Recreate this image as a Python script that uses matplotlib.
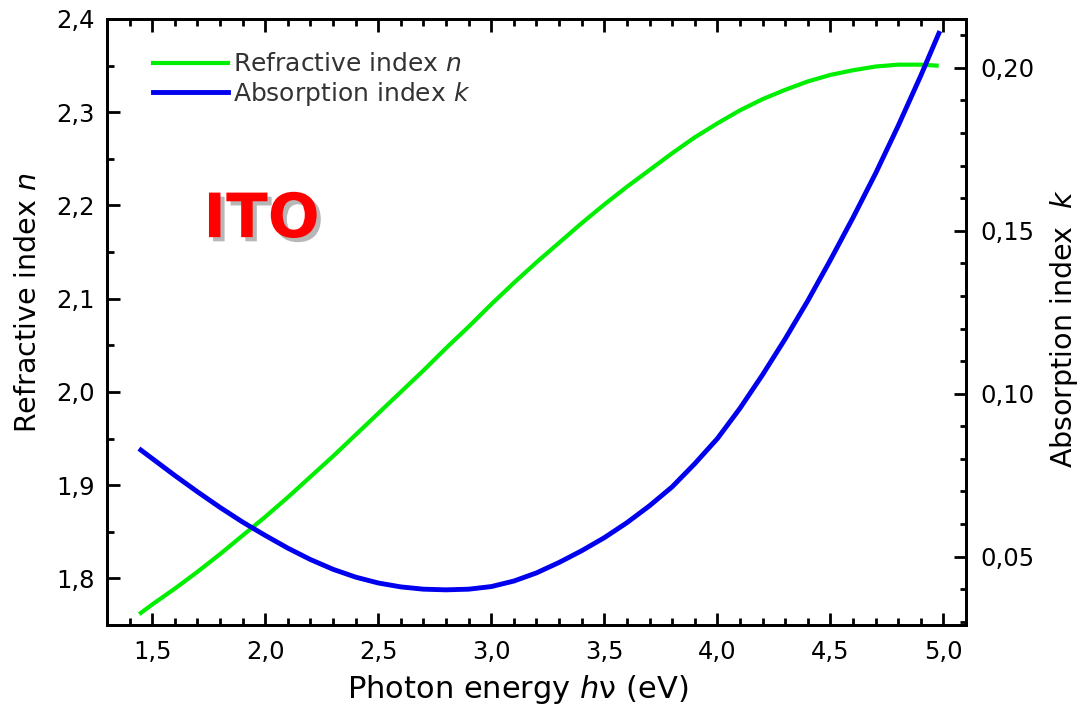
import numpy as np
import matplotlib.pyplot as plt
import matplotlib.patheffects as pe
from matplotlib.ticker import MultipleLocator, FuncFormatter

# values
energy_n = [1.45, 1.5, 1.6, 1.7, 1.8, 1.9, 2.0, 2.1, 2.2, 2.3, 2.4, 2.5, 2.6, 2.7, 2.8,
            2.9, 3.0, 3.1, 3.2, 3.3, 3.4, 3.5, 3.6, 3.7, 3.8, 3.9, 4.0, 4.1, 4.2, 4.3,
            4.4, 4.5, 4.6, 4.7, 4.8, 4.9, 4.97]
n_vals = [1.763, 1.772, 1.789, 1.807, 1.826, 1.846, 1.866, 1.887, 1.909, 1.931, 1.954,
          1.977, 2.000, 2.023, 2.047, 2.070, 2.094, 2.117, 2.139, 2.160, 2.181, 2.201,
          2.220, 2.238, 2.256, 2.273, 2.288, 2.302, 2.314, 2.324, 2.333, 2.340, 2.345,
          2.349, 2.351, 2.351, 2.350]

energy_k = [1.45, 1.5, 1.6, 1.7, 1.8, 1.9, 2.0, 2.1, 2.2, 2.3, 2.4, 2.5, 2.6, 2.7, 2.8,
            2.9, 3.0, 3.1, 3.2, 3.3, 3.4, 3.5, 3.6, 3.7, 3.8, 3.9, 4.0, 4.1, 4.2, 4.3,
            4.4, 4.5, 4.6, 4.7, 4.8, 4.9, 4.98]
k_vals = [0.0827, 0.0801, 0.0749, 0.0699, 0.0651, 0.0606, 0.0565, 0.0526, 0.0491, 0.0461,
          0.0437, 0.0419, 0.0407, 0.0400, 0.0398, 0.0400, 0.0408, 0.0425, 0.0450, 0.0482,
          0.0518, 0.0558, 0.0604, 0.0656, 0.0714, 0.0785, 0.0862, 0.0955, 0.1058, 0.1168,
          0.1285, 0.1410, 0.1540, 0.1676, 0.1822, 0.1976, 0.2106]

green = '#00ee00'
blue = '#0000ee'


def comma(fmt):
    return FuncFormatter(lambda v, p: fmt.format(v).replace('.', ','))


fig = plt.figure(figsize=(10.86, 7.08), dpi=100)
ax = fig.add_axes([0.0985, 0.1172, 0.791, 0.856])
ax2 = ax.twinx()

l1, = ax.plot(energy_n, n_vals, color=green, lw=3)
l2, = ax2.plot(energy_k, k_vals, color=blue, lw=3.5)

ax.set_xlim(1.3, 5.1)
ax.set_ylim(1.75, 2.4)
ax2.set_ylim(0.029, 0.215)

ax.xaxis.set_major_locator(MultipleLocator(0.5))
ax.xaxis.set_minor_locator(MultipleLocator(0.1))
ax.yaxis.set_major_locator(MultipleLocator(0.1))
ax.yaxis.set_minor_locator(MultipleLocator(0.05))
ax2.yaxis.set_major_locator(MultipleLocator(0.05))
ax2.yaxis.set_minor_locator(MultipleLocator(0.01))
ax.xaxis.set_major_formatter(comma('{:.1f}'))
ax.yaxis.set_major_formatter(comma('{:.1f}'))
ax2.yaxis.set_major_formatter(comma('{:.2f}'))

for a in (ax, ax2):
    for s in a.spines.values():
        s.set_linewidth(2)

ax.tick_params(which='both', direction='in', top=True, right=False, width=2, labelsize=17.5)
ax.tick_params(which='major', length=9)
ax.tick_params(which='minor', length=5)
ax.tick_params(axis='x', pad=11)
ax.tick_params(axis='y', pad=9)
ax2.tick_params(which='both', direction='in', width=2, labelsize=17.5, pad=10)
ax2.tick_params(which='major', length=9)
ax2.tick_params(which='minor', length=4)

ax.set_xlabel('Photon energy $h$\u03bd (eV)', fontsize=22)
ax.xaxis.set_label_coords(0.4785, -0.079)
fig.text(0.0258, 0.572, 'Refractive index $n$', rotation=90, ha='center', va='center', fontsize=20.5)
fig.text(0.980, 0.536, 'Absorption index  $k$', rotation=90, ha='center', va='center', fontsize=20.5)

ax.text(0.180, 0.640, 'ITO', transform=ax.transAxes, ha='center', va='baseline',
        fontsize=44, fontweight='bold', color='red',
        path_effects=[pe.withSimplePatchShadow(offset=(3, -3), shadow_rgbFace='#999999', alpha=0.7)])

leg = ax2.legend([l1, l2], ['Refractive index $n$', 'Absorption index $k$'],
                 loc='upper left', bbox_to_anchor=(0.0535, 0.945), frameon=False,
                 fontsize=18, handlelength=3.0, handletextpad=0.2, labelspacing=0.15,
                 borderpad=0, borderaxespad=0)
for t in leg.get_texts():
    t.set_color('#333333')

fig.savefig('out.png', dpi=100)
